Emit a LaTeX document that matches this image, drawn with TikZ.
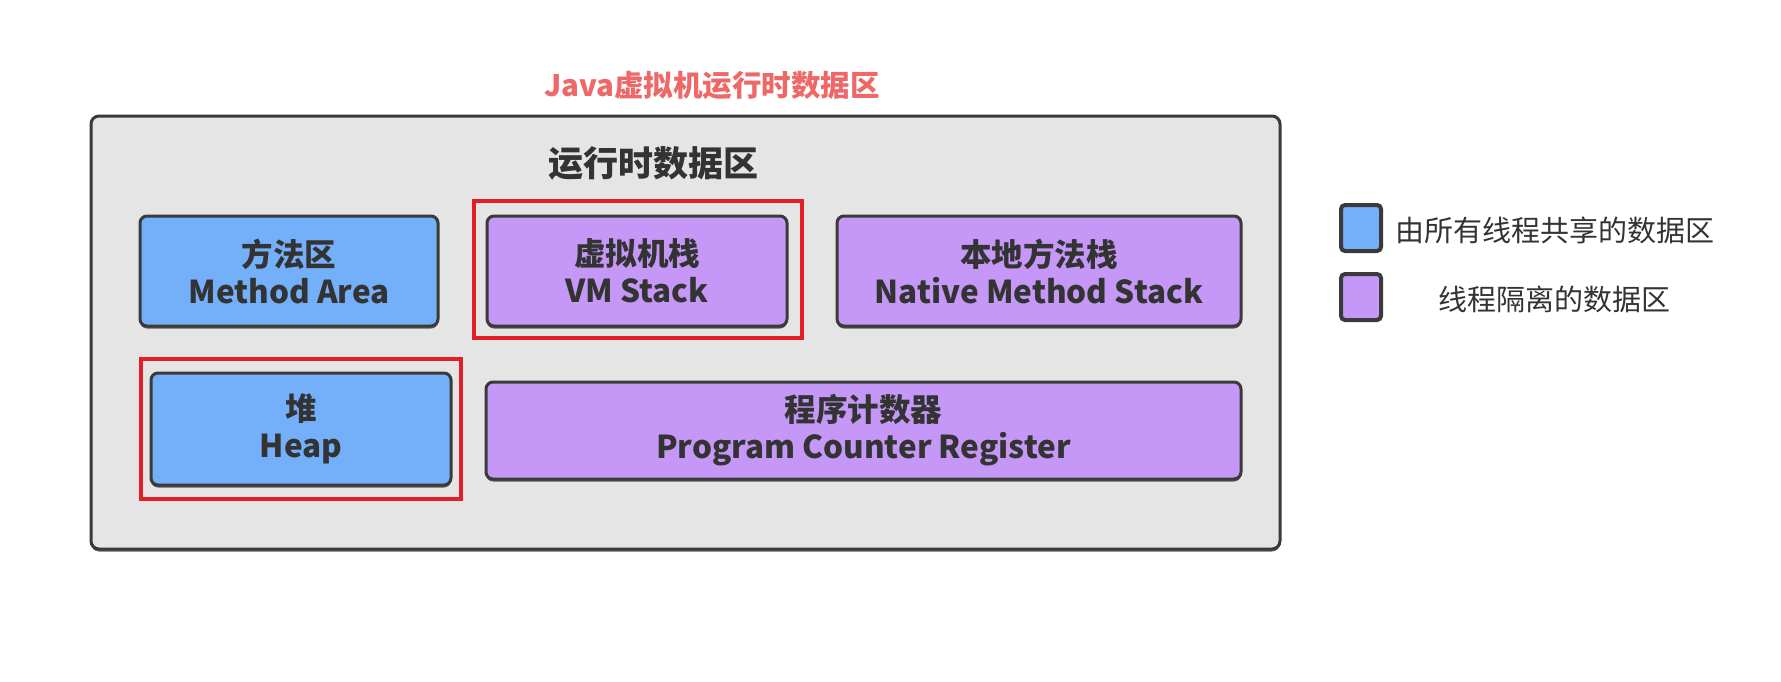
\documentclass[tikz,border=0pt]{standalone}
\usepackage{fontspec}
\setmainfont{Noto Sans CJK SC}
\usepackage{tikz}
\usetikzlibrary{shadows}

\definecolor{shared}{RGB}{116,175,249}
\definecolor{private}{RGB}{197,151,247}
\definecolor{areagray}{RGB}{229,229,229}
\definecolor{edgegray}{RGB}{58,58,58}
\definecolor{markred}{RGB}{226,30,38}
\definecolor{titlered}{RGB}{238,104,104}
\definecolor{inkgray}{RGB}{51,51,51}

\begin{document}
\begin{tikzpicture}[x=1pt,y=-1pt,
	every node/.style={text=inkgray,inner sep=0pt},
	region/.style={shape=rectangle,rounded corners=7pt,draw=edgegray,line width=3pt,
		align=center,font=\bfseries\fontsize{31.5}{37}\selectfont,
		drop shadow={shadow xshift=0pt,shadow yshift=-2.5pt,fill=edgegray,opacity=0.8}},
	sharedbox/.style={region,fill=shared},
	privatebox/.style={region,fill=private},
	hilite/.style={shape=rectangle,draw=markred,line width=4.5pt},
	legendbox/.style={shape=rectangle,rounded corners=4pt,draw=edgegray,line width=4pt,
		minimum width=40pt,minimum height=46pt}]
	\useasboundingbox (0,0) rectangle (1781,681);

	\node[text=titlered,font=\bfseries\fontsize{29.5}{35}\selectfont] (title) at (712,85) {Java虚拟机运行时数据区};

	\node[shape=rectangle,rounded corners=8pt,draw=edgegray,fill=areagray,line width=3pt,
		minimum width=1189pt,minimum height=433pt,
		drop shadow={shadow xshift=0pt,shadow yshift=-2.5pt,fill=edgegray,opacity=0.8}] (rtda) at (685.5,332.5) {};
	\node[font=\bfseries\fontsize{35}{41}\selectfont] (rtdaname) at (653,163) {运行时数据区};

	\node[sharedbox,minimum width=298pt,minimum height=110pt]  (method) at (289,271)   {方法区\\Method Area};
	\node[privatebox,minimum width=300pt,minimum height=110pt] (vmstack) at (637,271)  {虚拟机栈\\VM Stack};
	\node[privatebox,minimum width=404pt,minimum height=110pt] (native) at (1039,271)  {本地方法栈\\Native Method Stack};
	\node[sharedbox,minimum width=300pt,minimum height=112pt]  (heap) at (301,429)     {堆\\Heap};
	\node[privatebox,minimum width=755pt,minimum height=97pt]  (pcreg) at (863.5,430.5) {程序计数器\\Program Counter Register};

	\node[hilite,minimum width=328pt,minimum height=137pt] (vmmark) at (638,269.5) {};
	\node[hilite,minimum width=320pt,minimum height=140pt] (heapmark) at (301,429) {};

	\node[legendbox,fill=shared]  (sharedkey) at (1361,228) {};
	\node[legendbox,fill=private] (privatekey) at (1361,297) {};
	\node[anchor=west,font=\fontsize{29}{35}\selectfont] (sharedtext) at (1395,230) {由所有线程共享的数据区};
	\node[font=\fontsize{29}{35}\selectfont] (privatetext) at (1554,299) {线程隔离的数据区};
\end{tikzpicture}
\end{document}
